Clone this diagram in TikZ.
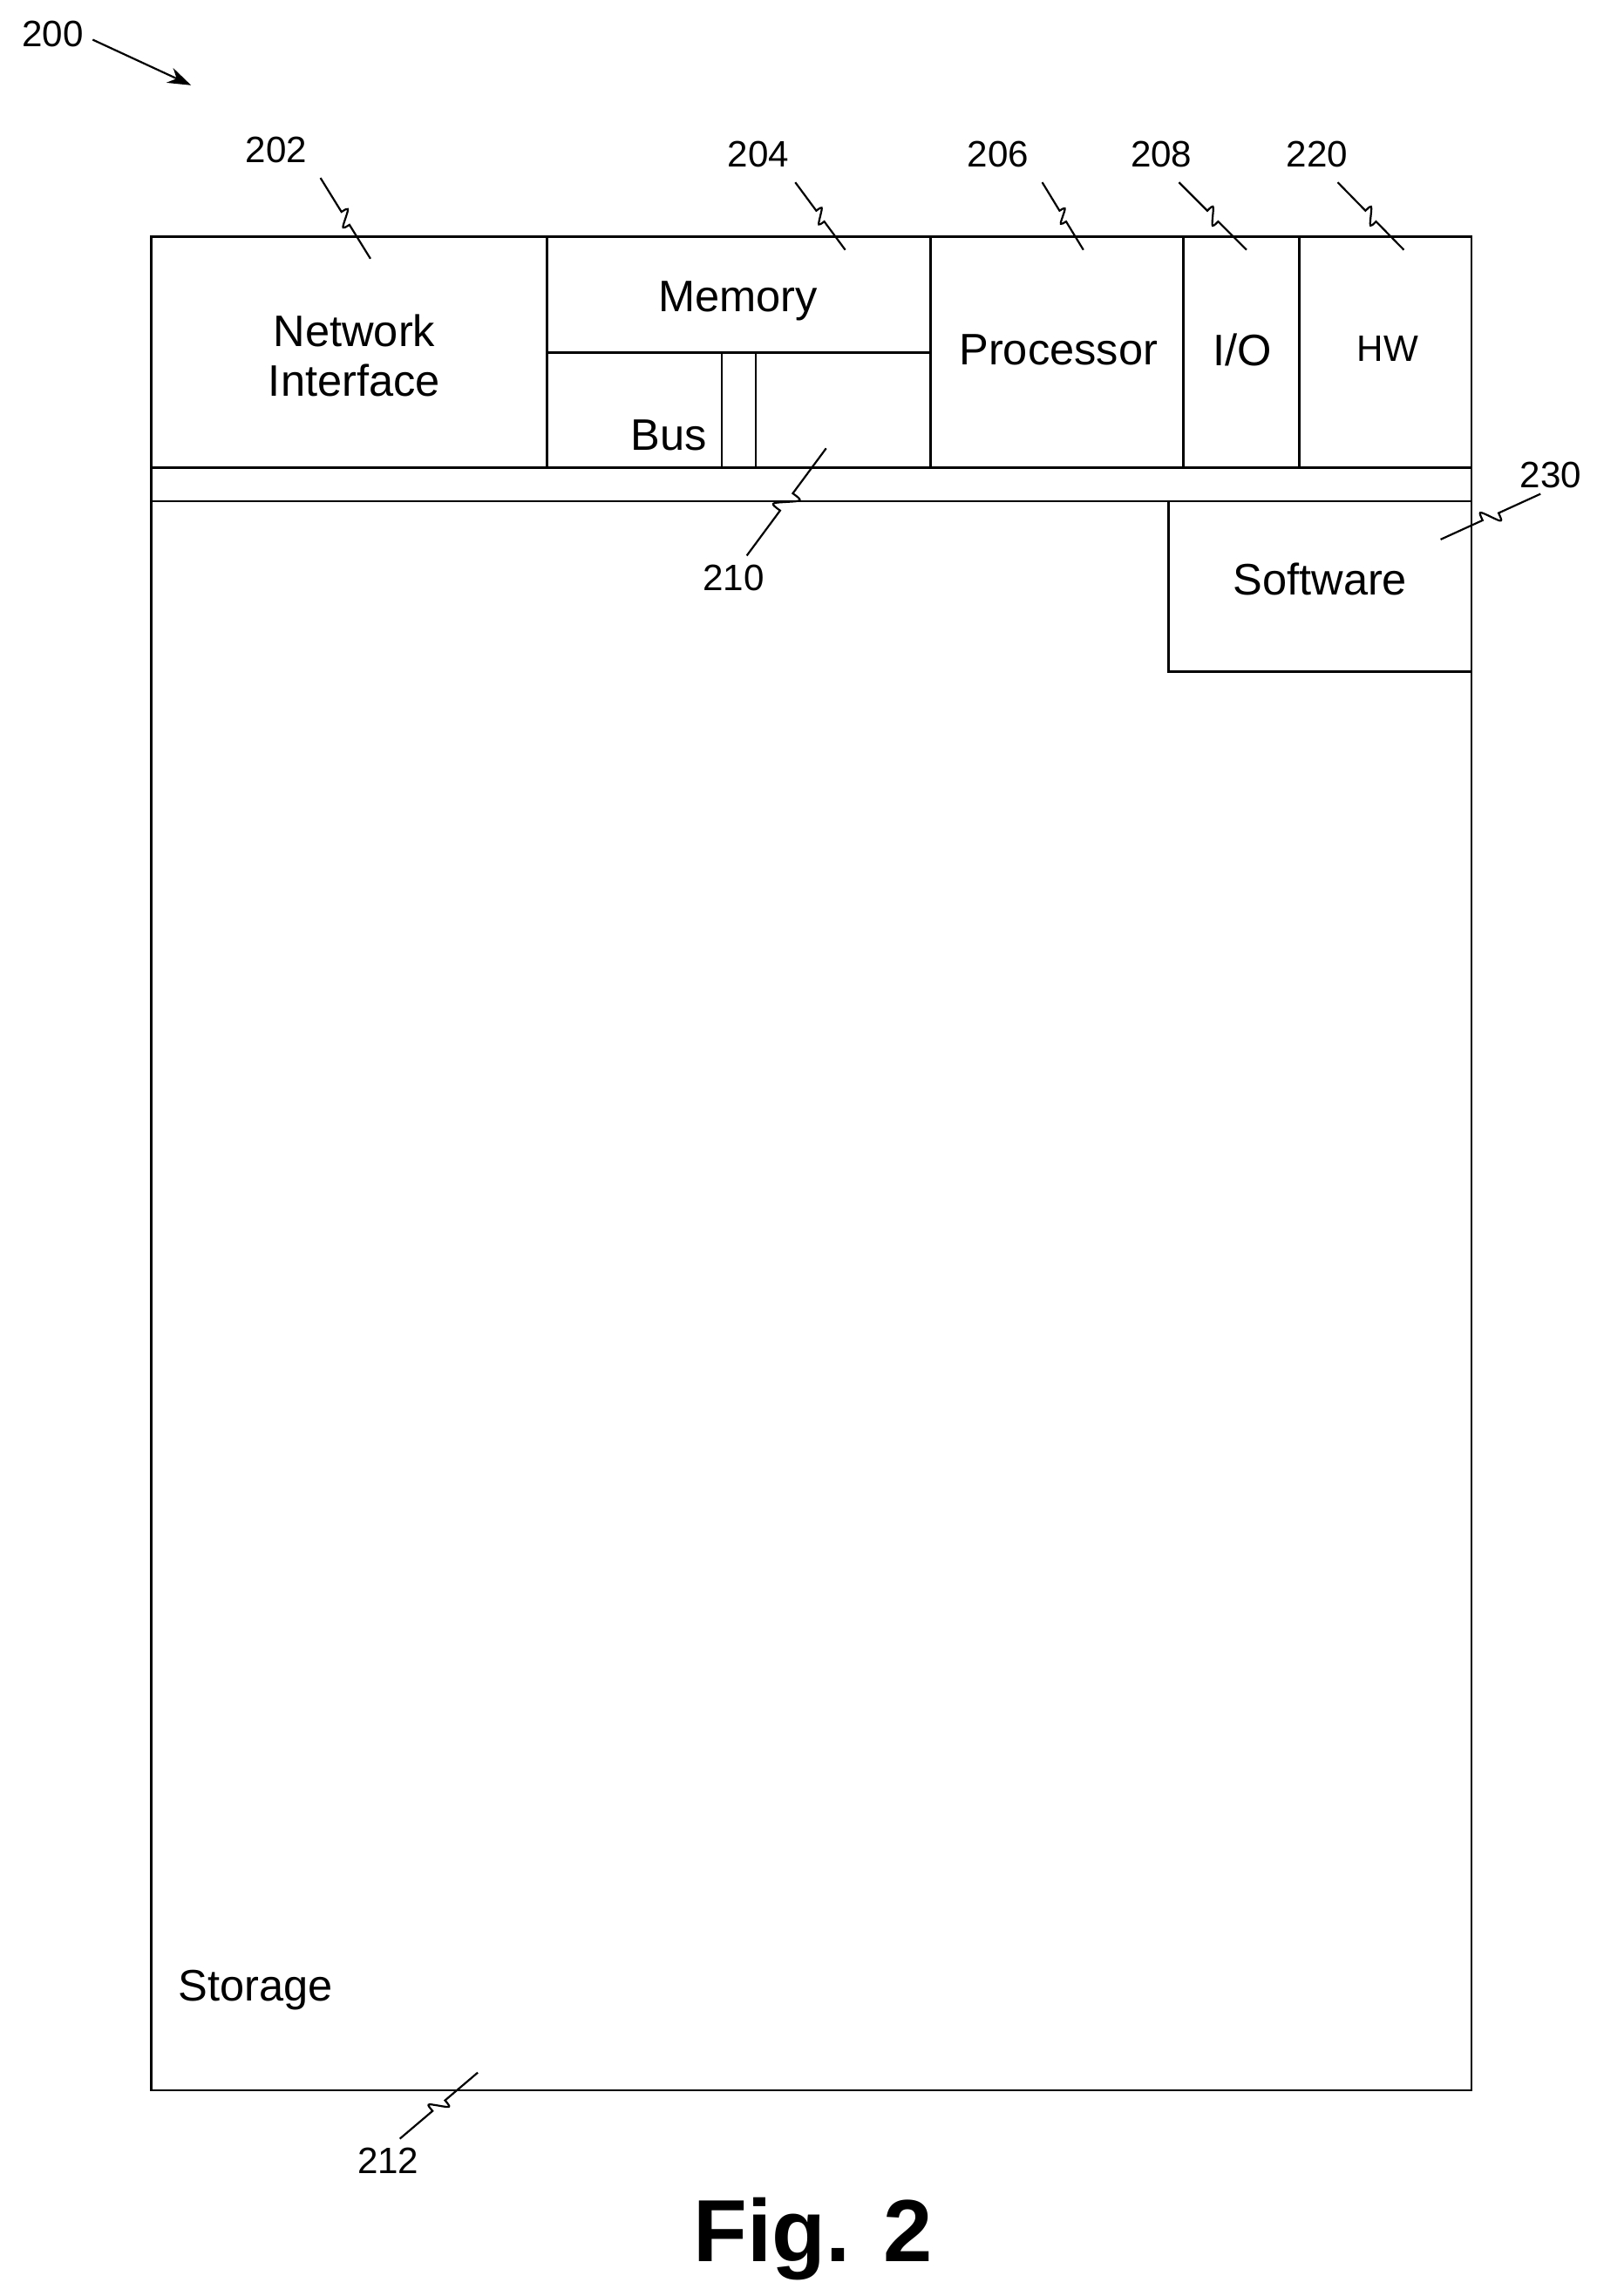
\documentclass[tikz,border=0pt]{standalone}
\usepackage{fontspec}
\setmainfont{Liberation Sans}
\usetikzlibrary{calc,arrows.meta}
\newcommand\leader[2]{%
 \coordinate (la) at ($(#1)!0.42!(#2)$);
 \coordinate (lm) at ($(#1)!0.5!(#2)$);
 \coordinate (lb) at ($(#1)!0.58!(#2)$);
 \coordinate (lc1) at ($(la)!1.2!90:(lm)$);
 \coordinate (lc2) at ($(lb)!1.2!90:(lm)$);
 \draw[thin line] (#1) -- (la) .. controls (lc1) .. (lm) .. controls (lc2) .. (lb) -- (#2);}
\begin{document}
\begin{tikzpicture}[x=1pt,y=-1pt,
  box/.style={line width=1.5pt},
  thin line/.style={line width=1.3pt},
  lbl/.style={font=\fontsize{30}{34}\selectfont,align=center,inner sep=0pt},
  num/.style={font=\fontsize{25}{28}\selectfont,inner sep=0pt}]
\useasboundingbox (0,0) rectangle (1086,1562);
\fill[white] (0,0) rectangle (1086,1562);
% outer frame
\draw[box] (103,161) rectangle (1001,1422);
\draw[box] (103,318) -- (1001,318);
\draw[box] (103,341) -- (1001,341);
\draw[box] (372,161) -- (372,318);
\draw[box] (633,161) -- (633,318);
\draw[box] (805,161) -- (805,318);
\draw[box] (884,161) -- (884,318);
\draw[box] (372,240) -- (633,240);
\draw[box] (491,240) -- (491,318);
\draw[box] (514,240) -- (514,318);
\draw[box] (795,341) -- (795,457) -- (1001,457);
% texts
\node[lbl] (net) at (241,242) {Network\\Interface};
\node[lbl] (mem) at (502,205) {Memory};
\node[lbl] (bus) at (455,296) {Bus};
\node[lbl] (proc) at (720,238) {Processor};
\node[lbl] (io) at (845,238) {I/O};
\node[lbl,font=\fontsize{25}{28}\selectfont] (hw) at (944,237) {HW};
\node[lbl] (sw) at (898,394) {Software};
\node[lbl,anchor=west] (stor) at (121,1354) {Storage};
% numbers
\node[num] (n200) at (36,23) {200};
\node[num] (n202) at (188,102) {202};
\node[num] (n204) at (516,105) {204};
\node[num] (n206) at (679,105) {206};
\node[num] (n208) at (790,105) {208};
\node[num] (n220) at (896,105) {220};
\node[num] (n210) at (499,393) {210};
\node[num] (n230) at (1055,323) {230};
\node[num] (n212) at (264,1470) {212};
\node[font=\fontsize{60}{64}\selectfont\bfseries] (fig) at (553,1523) {Fig. 2};
% leader ends
\coordinate (e202) at (252,176);
\coordinate (e204) at (575,170);
\coordinate (e206) at (737,170);
\coordinate (e208) at (848,170);
\coordinate (e220) at (955,170);
\coordinate (e210) at (562,305);
\coordinate (s210) at (508,378);
\coordinate (e230) at (980,367);
\coordinate (s230) at (1048,336);
\coordinate (e212) at (325,1410);
\coordinate (s212) at (272,1455);
\leader{$(n202.south)+(30,10)$}{e202}
\leader{$(n204.south)+(25,10)$}{e204}
\leader{$(n206.south)+(30,10)$}{e206}
\leader{$(n208.south)+(12,10)$}{e208}
\leader{$(n220.south)+(14,10)$}{e220}
\leader{s210}{e210}
\leader{s230}{e230}
\leader{s212}{e212}
\coordinate (a200) at (130,58);
\draw[thin line,-{Stealth[length=16pt,width=11pt]}] (n200.east) ++(6,4) -- (a200);
\end{tikzpicture}
\end{document}
